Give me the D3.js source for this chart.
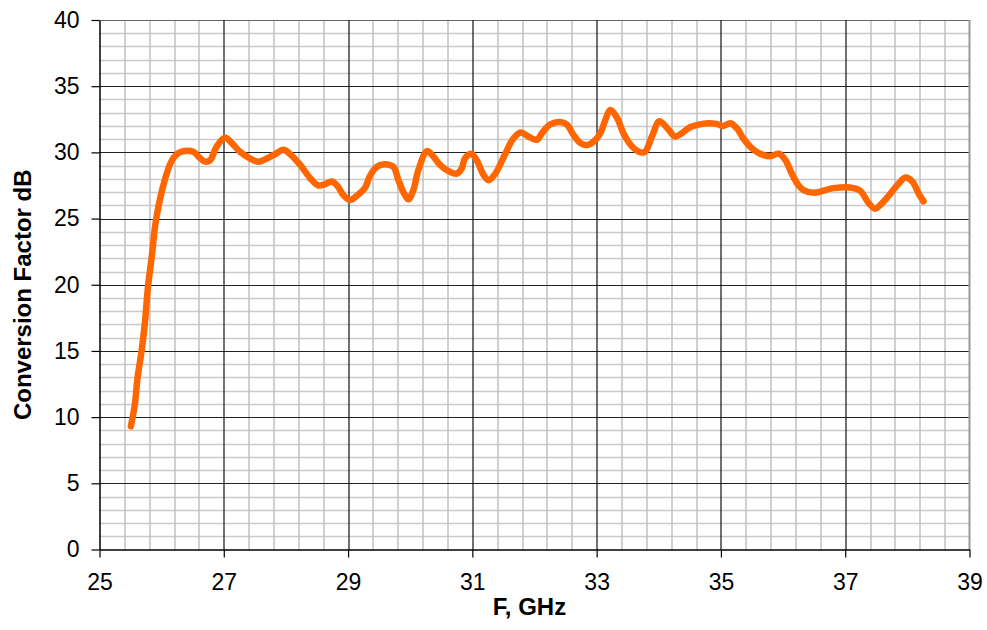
<!DOCTYPE html>
<html>
<head>
<meta charset="utf-8">
<script src="https://cdn.jsdelivr.net/npm/d3@7"></script>
<style>
  body { margin: 0; background: #fff; }
  svg text { font-family: "Liberation Sans", Arial, sans-serif; }
</style>
</head>
<body>
<div class="chart"></div>
<script>
// frequency, GHz
var freq = [25.505, 25.57, 25.61, 25.68, 25.73, 25.78, 25.84, 25.90, 25.97, 26.05, 26.13, 26.21, 26.32, 26.51, 26.62, 26.70, 26.78, 26.88, 27.02, 27.13,
  27.26, 27.42, 27.55, 27.80, 27.96, 28.06, 28.23, 28.39, 28.52, 28.63, 28.74, 28.84, 28.92, 29.03, 29.16, 29.27, 29.35, 29.46, 29.59, 29.73,
  29.81, 29.89, 29.97, 30.05, 30.13, 30.27, 30.37, 30.48, 30.61, 30.75, 30.83, 30.88, 30.98, 31.07, 31.18, 31.26, 31.37, 31.53, 31.66, 31.78,
  31.90, 32.04, 32.12, 32.25, 32.41, 32.52, 32.63, 32.74, 32.84, 32.95, 33.06, 33.14, 33.22, 33.33, 33.43, 33.57, 33.71, 33.78, 33.89, 34.01,
  34.16, 34.26, 34.37, 34.50, 34.64, 34.80, 34.93, 35.04, 35.15, 35.26, 35.36, 35.50, 35.63, 35.79, 35.93, 36.04, 36.14, 36.25, 36.33, 36.50,
  36.81, 37.08, 37.24, 37.38, 37.48, 37.59, 37.73, 37.86, 37.97, 38.08, 38.18, 38.26];
// conversion factor, dB
var convFactor = [9.3, 11.0, 12.9, 15.1, 17.1, 19.85, 22.1, 24.6, 26.4, 27.9, 29.05, 29.7, 30.05, 30.05, 29.55, 29.3, 29.4, 30.4, 31.1, 30.7,
  30.05, 29.55, 29.3, 29.8, 30.2, 29.9, 29.05, 28.05, 27.5, 27.6, 27.8, 27.4, 26.8, 26.4, 26.8, 27.3, 28.2, 28.9, 29.1, 28.9,
  27.9, 27.0, 26.45, 27.15, 28.65, 30.1, 29.7, 29.05, 28.6, 28.4, 28.8, 29.55, 29.9, 29.4, 28.3, 27.9, 28.4, 29.9, 31.05, 31.5,
  31.2, 30.95, 31.45, 32.1, 32.3, 32.1, 31.3, 30.7, 30.55, 30.8, 31.45, 32.45, 33.2, 32.6, 31.45, 30.45, 30.0, 30.05, 31.2, 32.35,
  31.7, 31.2, 31.45, 31.9, 32.1, 32.2, 32.15, 32.0, 32.2, 31.8, 31.05, 30.3, 29.9, 29.7, 29.9, 29.4, 28.4, 27.5, 27.15, 26.95,
  27.3, 27.35, 27.1, 26.15, 25.75, 26.15, 26.9, 27.65, 28.1, 27.8, 26.9, 26.3];

var xTicks = [25, 27, 29, 31, 33, 35, 37, 39];
var yTicks = [0, 5, 10, 15, 20, 25, 30, 35, 40];

var data = freq.map(function(f, i) { return {f: f, v: convFactor[i]}; });

var margin = {top: 20, right: 17.5, bottom: 80.5, left: 99.5},
    width = 987 - margin.left - margin.right,
    height = 630 - margin.top - margin.bottom;

var svg = d3.select(".chart").append("svg")
    .attr("width", 987)
    .attr("height", 630);

var g = svg.append("g")
    .attr("transform", "translate(" + margin.left + "," + margin.top + ")");

var x = d3.scaleLinear().domain([25, 39]).range([0, width]);
var y = d3.scaleLinear().domain([0, 40]).range([height, 0]);

// minor grid
g.append("g").selectAll("line")
  .data(d3.range(0, 41, 1).filter(function(d) { return d % 5 != 0; }))
  .enter().append("line")
    .attr("x1", 0).attr("x2", width)
    .attr("y1", function(d) { return Math.round(y(d)) + 0.5; })
    .attr("y2", function(d) { return Math.round(y(d)) + 0.5; })
    .attr("stroke", "#cacaca")
    .attr("stroke-width", 1.5);

g.append("g").selectAll("line")
  .data(d3.range(0, 35).map(function(i) { return 25 + i * 0.4; }).filter(function(d, i) { return i % 5 != 0; }))
  .enter().append("line")
    .attr("y1", 0).attr("y2", height)
    .attr("x1", function(d) { return Math.round(x(d)) + 0.5; })
    .attr("x2", function(d) { return Math.round(x(d)) + 0.5; })
    .attr("stroke", "#c0c0c0")
    .attr("stroke-width", 1.5);

// major grid
g.append("g").selectAll("line")
  .data(yTicks.slice(1))
  .enter().append("line")
    .attr("x1", 0).attr("x2", width)
    .attr("y1", function(d) { return Math.round(y(d)) + 0.5; })
    .attr("y2", function(d) { return Math.round(y(d)) + 0.5; })
    .attr("stroke", function(d) { return d == 40 ? "#666" : "#222"; })
    .attr("stroke-width", 1.2);

g.append("g").selectAll("line")
  .data(xTicks.slice(1, -1))
  .enter().append("line")
    .attr("y1", 0).attr("y2", height)
    .attr("x1", function(d) { return Math.round(x(d)) + 0.5; })
    .attr("x2", function(d) { return Math.round(x(d)) + 0.5; })
    .attr("stroke", "#111")
    .attr("stroke-width", 1.2);

// right border
g.append("line")
  .attr("x1", width).attr("x2", width)
  .attr("y1", 0).attr("y2", height)
  .attr("stroke", "#999")
  .attr("stroke-width", 2);

// axes
var xAxis = d3.axisBottom(x).tickValues(xTicks).tickSize(8).tickSizeOuter(0).tickPadding(16);
var yAxis = d3.axisLeft(y).tickValues(yTicks).tickSize(8).tickSizeOuter(0).tickPadding(12);

var gx = g.append("g")
  .attr("transform", "translate(0," + height + ")")
  .call(xAxis);
var gy = g.append("g").call(yAxis);

[gx, gy].forEach(function(a) {
  a.select(".domain").attr("stroke", "#000").attr("stroke-width", 1.5);
  a.selectAll(".tick line").attr("stroke", "#000").attr("stroke-width", 1.2);
  a.selectAll(".tick text")
    .attr("fill", "#000")
    .style("font-size", "23px")
    .style("font-family", "Liberation Sans, Arial, sans-serif");
});

// the curve
var line = d3.line()
  .x(function(d) { return x(d.f); })
  .y(function(d) { return y(d.v); })
  .curve(d3.curveCatmullRom.alpha(0.5));

g.append("path")
  .datum(data)
  .attr("fill", "none")
  .attr("stroke", "#ff6600")
  .attr("stroke-width", 6.5)
  .attr("stroke-linejoin", "round")
  .attr("stroke-linecap", "round")
  .attr("d", line);

// axis titles
svg.append("text")
  .attr("x", margin.left + width / 2 - 5)
  .attr("y", 615)
  .attr("text-anchor", "middle")
  .style("font-size", "24px")
  .style("font-weight", "bold")
  .text("F, GHz");

svg.append("text")
  .attr("transform", "translate(31," + (margin.top + height / 2 + 10) + ") rotate(-90)")
  .attr("text-anchor", "middle")
  .style("font-size", "24px")
  .style("font-weight", "bold")
  .text("Conversion Factor dB");
</script>
</body>
</html>
